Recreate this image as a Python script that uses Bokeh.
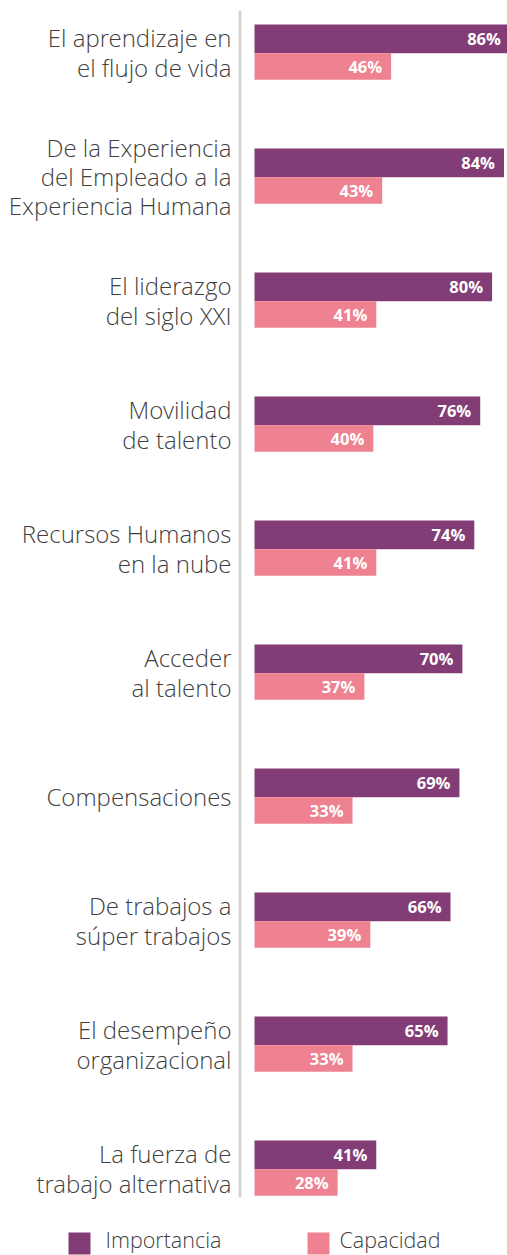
from bokeh.plotting import figure
from bokeh.models import Range1d, ColumnDataSource
from bokeh.core.properties import value
from bokeh.embed import file_html
from bokeh.resources import INLINE

categories = [
    "El aprendizaje en\nel flujo de vida",
    "De la Experiencia\ndel Empleado a la\nExperiencia Humana",
    "El liderazgo\ndel siglo XXI",
    "Movilidad\nde talento",
    "Recursos Humanos\nen la nube",
    "Acceder\nal talento",
    "Compensaciones",
    "De trabajos a\nsúper trabajos",
    "El desempeño\norganizacional",
    "La fuerza de\ntrabajo alternativa",
]
importancia = [86, 84, 80, 76, 74, 70, 69, 66, 65, 41]
capacidad = [46, 43, 41, 40, 41, 37, 33, 39, 33, 28]
series_names = ["Importancia", "Capacidad"]
colors = ["#823D76", "#EE8290"]

W, H = 507, 1255
PX = 2.97          # pixels per percentage point
X0 = 254           # px where value 0 sits
GROUP = 124        # px between groups
C0 = 52            # px of first group centre

def fx(px):
    return (px - X0) / PX

def fy(px):
    return (px - C0) / GROUP

p = figure(width=W, height=H, output_backend="svg", toolbar_location=None,
           x_range=Range1d(fx(0), fx(W)), y_range=Range1d(fy(H), fy(0)),
           min_border=0)
p.axis.visible = False
p.grid.visible = False
p.outline_line_color = None
p.background_fill_color = "white"
p.border_fill_color = "white"

idx = list(range(len(categories)))
src = ColumnDataSource(dict(
    y=idx,
    cat=categories,
    imp=importancia,
    cap=capacidad,
    imp_lbl=[f"{v}%" for v in importancia],
    cap_lbl=[f"{v}%" for v in capacidad],
    y_imp=[i - 13.6 / GROUP for i in idx],
    y_cap=[i + 14.0 / GROUP for i in idx],
))

# vertical axis line
p.segment(x0=fx(239.5), y0=fy(10), x1=fx(239.5), y1=fy(1197),
          line_color="#d6d6d6", line_width=3)

p.hbar(y="y_imp", left=0, right="imp", height=28.7 / GROUP, source=src,
       fill_color=colors[0], line_color=None)
p.hbar(y="y_cap", left=0, right="cap", height=26.3 / GROUP, source=src,
       fill_color=colors[1], line_color=None)

p.text(x="imp", y="y_imp", text="imp_lbl", source=src, x_offset=-9,
       text_align="right", text_baseline="middle", text_color="white",
       text_font=value("Open Sans"), text_font_style="bold", text_font_size="16.5px")
p.text(x="cap", y="y_cap", text="cap_lbl", source=src, x_offset=-9,
       text_align="right", text_baseline="middle", text_color="white",
       text_font=value("Open Sans"), text_font_style="bold", text_font_size="16.5px")

p.text(x=fx(231), y="y", text="cat", source=src,
       text_align="right", text_baseline="middle", text_color="#404040",
       text_font=value("Open Sans Light"), text_font_size="24px", text_line_height=0.89)

# legend
leg = ColumnDataSource(dict(
    x=[fx(79), fx(318)],
    tx=[fx(105), fx(339)],
    y=[fy(1243), fy(1243)],
    ty=[fy(1239), fy(1239)],
    name=series_names,
    color=colors,
))
p.rect(x="x", y="y", width=22, height=22, width_units="screen", height_units="screen",
       fill_color="color", line_color=None, source=leg)
p.text(x="tx", y="ty", text="name", source=leg, text_align="left", text_baseline="middle",
       text_color="#404040", text_font=value("Open Sans Light"), text_font_size="21.5px")

open("out.html", "w").write(file_html(p, INLINE))
